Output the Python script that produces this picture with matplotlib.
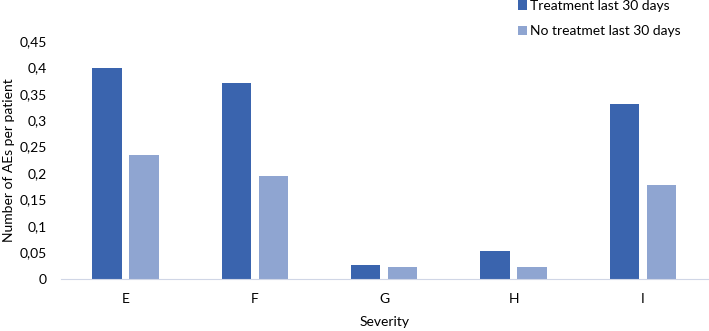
import numpy as np
import matplotlib.pyplot as plt

plt.rcParams['font.family'] = ['Lato', 'DejaVu Sans']

categories = ['E', 'F', 'G', 'H', 'I']
treated = [0.398, 0.370, 0.026, 0.053, 0.330]
not_treated = [0.235, 0.195, 0.022, 0.022, 0.178]
yticks = [0, 0.05, 0.1, 0.15, 0.2, 0.25, 0.3, 0.35, 0.4, 0.45]

dark = '#3a64ae'
light = '#8fa5d1'

fig = plt.figure(figsize=(7.09, 3.31), dpi=100)
ax = fig.add_axes([0.086, 0.157, 0.912, 0.72])

x = np.arange(len(categories))
w = 0.227
off = 0.143
b1 = ax.bar(x - off, treated, w, color=dark, label='Treatment last 30 days')
b2 = ax.bar(x + off, not_treated, w, color=light, label='No treatmet last 30 days')

ax.set_xlim(-0.5, 4.5)
ax.set_ylim(0, 0.45)
ax.set_xticks(x)
ax.set_xticklabels(categories, fontsize=10)
ax.set_yticks(yticks)
ax.set_yticklabels([('%g' % t).replace('.', ',') for t in yticks], fontsize=10)
ax.tick_params(length=0)
ax.tick_params(axis='x', pad=10)
ax.tick_params(axis='y', pad=10)

for s in ['top', 'right', 'left']:
    ax.spines[s].set_visible(False)
ax.spines['bottom'].set_color('#d0d6e6')

ax.set_xlabel('Severity', fontsize=10, labelpad=8)
ax.set_ylabel('Number of AEs per patient', fontsize=10)
ax.yaxis.set_label_coords(-0.071, 0.5)

fig.legend(handles=[b1, b2], loc='upper left', bbox_to_anchor=(0.7306, 1.0),
           frameon=False, fontsize=10, handlelength=0.65, handleheight=0.65,
           handletextpad=0.2, labelspacing=0.95, borderpad=0, borderaxespad=0)

fig.savefig('out.png', dpi=100)
